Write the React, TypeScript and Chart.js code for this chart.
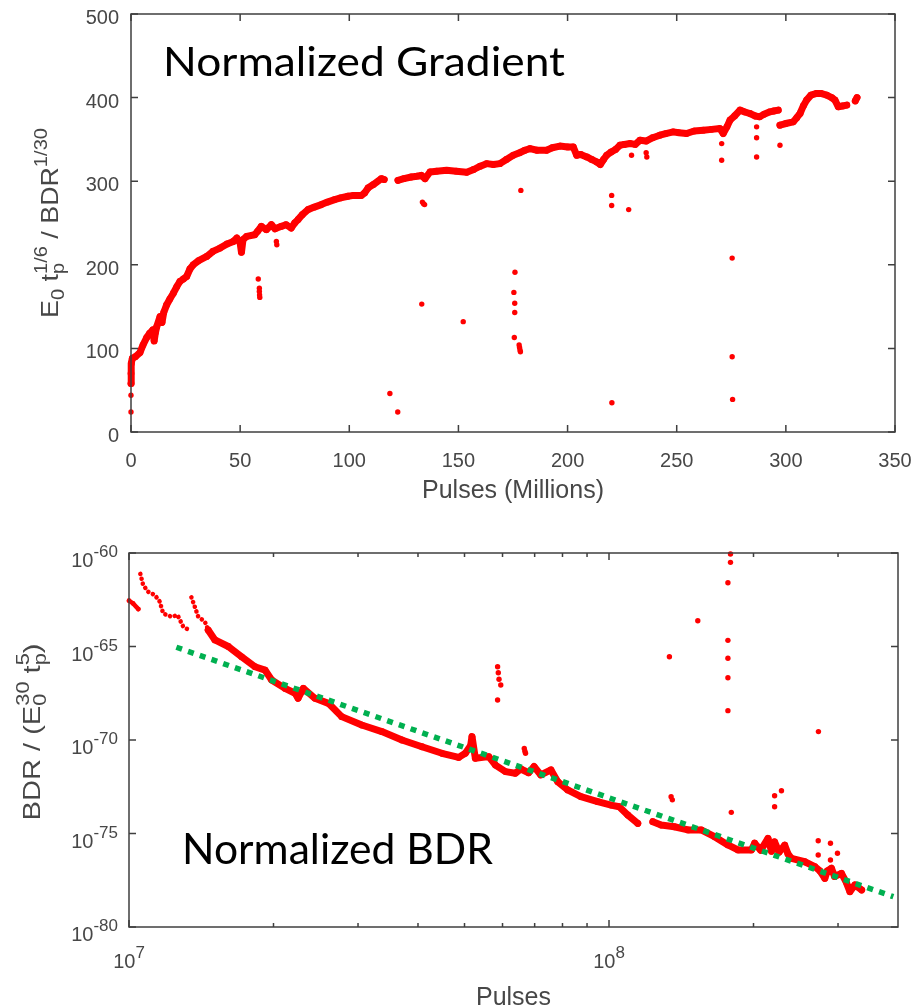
import React, { useEffect, useRef } from "react";
import { Chart, registerables } from "chart.js";
Chart.register(...registerables);

// ================= Top chart: Normalized Gradient =================
const gradXTicks = [0, 50, 100, 150, 200, 250, 300, 350];
const gradYTicks = [0, 100, 200, 300, 400, 500];

// main trend, [pulses (millions), E0 tp^(1/6) / BDR^(1/30)]
const gradTrendA: [number, number][] = [
  [0, 58], [0, 70], [0.2, 82], [0.6, 88], [2, 90], [4.1, 95], [5.5, 104], [7.2, 113], [8.5, 118],
  [10, 122], [10.6, 109], [11.2, 119], [11.8, 126], [13.3, 138], [14.2, 131], [15, 143], [16.3, 152],
  [17.8, 159], [19.4, 166], [21, 174], [22.4, 180], [24, 183], [25.5, 186], [27, 195], [28.5, 200],
  [31, 205], [34.7, 210], [37.5, 216], [40.8, 220], [44, 225], [46.9, 228], [48.5, 232], [50, 226],
  [50.6, 215], [51.3, 230], [53, 234], [56.7, 236], [58, 240], [59.7, 246], [62, 242], [64.3, 248],
  [66, 243], [68.9, 246], [71, 248], [73.4, 244], [75, 250], [76.5, 254], [78.5, 260], [81.1, 266],
  [84, 269], [87.2, 272], [90, 275], [93.3, 278], [96, 280], [99.4, 282], [102, 283], [105.5, 283],
  [107, 286], [108.6, 292], [111, 296], [114.7, 303], [116, 302],
];
const gradTrendB: [number, number][] = [
  [122.3, 301], [125, 303], [128.4, 305], [131, 306], [133, 307], [134.7, 303], [137, 311], [140, 312],
  [144.6, 313], [149, 312], [153.8, 310.6], [157, 314], [160, 318], [162.9, 321], [166, 320], [169, 321],
  [172, 326], [175.1, 331], [178, 334], [180.5, 337], [182.8, 339], [186, 337], [190.4, 337], [193, 340],
  [196.5, 342], [200, 341], [202.6, 341], [204.2, 331], [206, 332], [208.8, 329], [211, 326], [213.3, 323],
  [215, 320], [216.5, 326], [217.9, 331], [220, 335], [222, 338], [224, 343], [226, 344], [228.6, 345],
  [231, 344], [233.2, 349], [236, 348], [239, 352], [242.3, 355], [245, 357], [248.4, 359], [251, 358],
  [254.5, 357], [258, 360], [262.2, 361], [266, 362], [269.8, 363], [271.3, 357], [273, 365], [274.4, 373],
  [276.5, 378], [279, 385], [281, 383], [283.5, 381], [286, 378], [288, 377], [290, 380], [292.7, 383],
  [294.5, 384], [296.5, 385],
];
const gradTrendC: [number, number][] = [
  [297.3, 367], [300, 369], [303.4, 371], [305, 376], [306.5, 381], [308, 390], [309.5, 397], [311.5, 403],
  [314.1, 405], [316, 405], [318.7, 403], [321, 400], [322.5, 397], [324, 389], [326, 390], [327.9, 391],
];
const gradTrendD: [number, number][] = [[331.8, 396], [332.6, 400]];
const gradOutliers: [number, number][] = [
  [0, 44], [0, 24], [58.3, 183], [58.8, 172], [58.8, 168], [58.9, 164], [59, 161], [66.6, 228], [66.8, 224],
  [118.6, 46], [122.2, 24], [133.2, 153], [133.5, 275], [134, 273], [134.5, 272], [152.2, 132],
  [175.9, 191], [175.4, 167], [175.8, 154], [175.8, 143], [175.6, 113], [177.8, 104], [178, 101],
  [178.2, 98], [178.4, 96], [178.6, 289], [220.2, 283], [220.2, 271], [220.3, 35], [228, 266],
  [229.3, 331], [236, 334], [236.3, 329], [270.6, 345], [270.6, 325], [275.4, 208], [275.4, 90],
  [275.6, 39], [286.6, 365], [286.6, 352], [286.6, 329], [297.3, 343],
];

// ================= Bottom chart: Normalized BDR =================
// x in millions of pulses, y as log10 of BDR / (E0^30 tp^5)
const bdrXMajorM = [10, 100];
const bdrXMinorM = [20, 30, 40, 50, 60, 70, 80, 90, 200, 300];
const bdrYTickExp = [-80, -75, -70, -65, -60];

const bdrSeg1: [number, number][] = [[10.0, -62.55], [10.2, -62.7], [10.46, -63.0]];
const bdrSeg2Dotted: [number, number][] = [
  [10.56, -61.12], [10.7, -61.71], [10.96, -62.07], [11.32, -62.25], [11.59, -62.6], [11.78, -63.23],
  [12.26, -63.41], [12.62, -63.32], [12.97, -63.94], [13.39, -64.15],
];
const bdrSeg3Dotted: [number, number][] = [
  [13.49, -62.37], [13.71, -62.87], [13.94, -63.41], [14.39, -63.67], [14.62, -64.12],
];
const bdrSeg3: [number, number][] = [
  [14.62, -64.12], [15.1, -64.65], [16.1, -65.0], [17.16, -65.55], [18.3, -66.08], [19.2, -66.26],
  [19.82, -66.79], [21.14, -67.24], [22.18, -67.5], [22.5, -67.77], [23.08, -67.24], [24.4, -67.77],
  [26.03, -68.04], [27.74, -68.75], [30.54, -69.2], [33.63, -69.55], [37.03, -70.0], [40.77, -70.36],
  [44.87, -70.71], [48.62, -70.93], [50.2, -70.71], [51.5, -70.3], [51.83, -69.82], [52.67, -70.98],
  [56.16, -70.89], [58.0, -71.34], [60.85, -71.69], [63.8, -71.78], [65.5, -71.55], [68.0, -71.75],
  [69.8, -71.42], [72.1, -71.87], [75.7, -71.6], [78.2, -72.23], [82.0, -72.67], [87.4, -73.03],
  [94.7, -73.3], [101, -73.48], [105, -73.57], [109.4, -74.01], [114.8, -74.46],
];
const bdrSeg4: [number, number][] = [
  [123.4, -74.37], [128.4, -74.55], [136.8, -74.64], [146, -74.81], [155.6, -74.81], [165.9, -75.17],
  [176.9, -75.61], [185.6, -75.88], [198, -75.88], [201.1, -75.52], [207, -75.9], [214.4, -75.26],
  [218, -75.95], [221.3, -75.45], [226, -76.0], [232.3, -75.62], [236, -76.1], [240, -76.33],
  [255.7, -76.51], [268.4, -76.77], [275, -77.0], [281.6, -77.4], [285, -77.0], [290.7, -76.86],
  [295, -77.3], [305, -77.13], [312, -77.6], [317.6, -78.11], [325.3, -77.75], [336, -78.02],
];
const bdrOutliers: [number, number][] = [
  [179.1, -60.05], [179.1, -60.5], [176.9, -61.59], [153.1, -63.62], [133.6, -65.55], [176.9, -64.67],
  [176.9, -65.63], [176.9, -66.67], [176.9, -68.43], [273.1, -69.55],
  [58.6, -66.08], [58.8, -66.4], [59.0, -66.75], [59.5, -67.06], [58.6, -67.86],
  [66.6, -70.45], [66.8, -70.6], [67.0, -70.71],
  [134.7, -73.03], [135.5, -73.2], [179.8, -73.87], [221.3, -72.98], [228.7, -72.71], [221.3, -73.57],
  [272.8, -75.39], [272.8, -76.15], [289.3, -75.52], [289.3, -76.42], [299.2, -76.06],
];
const bdrFitM = [12.55, 391.2];
const bdrFitExp = [-65.04, -78.38];

// ================= helpers =================
const SANS = '"Liberation Sans", Arial, Helvetica, sans-serif';
const AXIS = "#3f3f3f";
const TXT = "#474747";
const RED = "#ff0000";
const GREEN = "#00b050";

const lin = (a: [number, number][]) => a.map(([x, y]) => ({ x, y }));
const logPts = (a: [number, number][]) => a.map(([m, e]) => ({ x: m * 1e6, y: Math.pow(10, e) }));

type Seg = { t?: string; sub?: string; sup?: string };

function segsWidth(ctx: CanvasRenderingContext2D, segs: Seg[], big: string, small: string) {
  let w = 0;
  for (const s of segs) {
    if (s.t !== undefined) {
      ctx.font = big;
      w += ctx.measureText(s.t).width;
    } else {
      ctx.font = small;
      w += Math.max(s.sub ? ctx.measureText(s.sub).width : 0, s.sup ? ctx.measureText(s.sup).width : 0);
    }
  }
  return w;
}

function drawSegs(ctx: CanvasRenderingContext2D, segs: Seg[], x: number, y: number, big: string, small: string, subDy: number, supDy: number) {
  for (const s of segs) {
    if (s.t !== undefined) {
      ctx.font = big;
      ctx.fillText(s.t, x, y);
      x += ctx.measureText(s.t).width;
    } else {
      ctx.font = small;
      let w = 0;
      if (s.sub) { ctx.fillText(s.sub, x, y + subDy); w = Math.max(w, ctx.measureText(s.sub).width); }
      if (s.sup) { ctx.fillText(s.sup, x, y + supDy); w = Math.max(w, ctx.measureText(s.sup).width); }
      x += w;
    }
  }
}

function drawRotatedTitle(ctx: CanvasRenderingContext2D, segs: Seg[], baseX: number, centerY: number, targetLen: number) {
  const big = `24px ${SANS}`;
  const small = `18px ${SANS}`;
  const w = segsWidth(ctx, segs, big, small);
  ctx.save();
  ctx.translate(baseX, centerY);
  ctx.rotate(-Math.PI / 2);
  ctx.scale(targetLen / w, 1);
  ctx.fillStyle = TXT;
  ctx.textAlign = "left";
  ctx.textBaseline = "alphabetic";
  drawSegs(ctx, segs, -w / 2, 0, big, small, 6, -11);
  ctx.restore();
}

function fitText(ctx: CanvasRenderingContext2D, text: string, x: number, y: number, font: string, targetW: number) {
  ctx.save();
  ctx.font = font;
  const w = ctx.measureText(text).width;
  ctx.translate(x, y);
  ctx.scale(targetW / w, 1);
  ctx.fillStyle = "#000";
  ctx.textAlign = "left";
  ctx.textBaseline = "alphabetic";
  ctx.fillText(text, 0, 0);
  ctx.restore();
}

function frameAndTicks(ctx: CanvasRenderingContext2D, a: any, xt: { px: number; len: number }[], yt: { py: number; len: number }[]) {
  ctx.strokeStyle = AXIS;
  ctx.lineWidth = 1.5;
  ctx.strokeRect(a.left, a.top, a.right - a.left, a.bottom - a.top);
  ctx.beginPath();
  for (const { px, len } of xt) {
    ctx.moveTo(px, a.bottom); ctx.lineTo(px, a.bottom - len);
    ctx.moveTo(px, a.top); ctx.lineTo(px, a.top + len);
  }
  for (const { py, len } of yt) {
    ctx.moveTo(a.left, py); ctx.lineTo(a.left + len, py);
    ctx.moveTo(a.right, py); ctx.lineTo(a.right - len, py);
  }
  ctx.stroke();
}

const gradDecor = {
  id: "gradDecor",
  afterDraw(chart: any) {
    const { ctx, chartArea: a, scales } = chart;
    const xs = scales.x, ys = scales.y;
    ctx.save();
    frameAndTicks(
      ctx, a,
      gradXTicks.map((v) => ({ px: xs.getPixelForValue(v), len: 7 })),
      gradYTicks.map((v) => ({ py: ys.getPixelForValue(v), len: 7 })),
    );
    ctx.fillStyle = TXT;
    ctx.font = `20px ${SANS}`;
    ctx.textBaseline = "alphabetic";
    ctx.textAlign = "center";
    for (const v of gradXTicks) ctx.fillText(String(v), xs.getPixelForValue(v), a.bottom + 35);
    ctx.textAlign = "right";
    for (const v of gradYTicks) ctx.fillText(String(v), a.left - 12, ys.getPixelForValue(v) + 10);
    ctx.textAlign = "center";
    ctx.font = `25px ${SANS}`;
    ctx.fillText("Pulses (Millions)", (a.left + a.right) / 2, a.bottom + 66);
    drawRotatedTitle(
      ctx,
      [{ t: "E" }, { sub: "0" }, { t: " t" }, { sub: "p", sup: "1/6" }, { t: " / BDR" }, { sup: "1/30" }],
      58, (a.top + a.bottom) / 2, 190,
    );
    fitText(ctx, "Normalized Gradient", a.left + 32, a.top + 62, `41px Lato, "Open Sans", sans-serif`, 402);
    ctx.restore();
  },
};

const bdrDecor = {
  id: "bdrDecor",
  afterDraw(chart: any) {
    const { ctx, chartArea: a, scales } = chart;
    const xs = scales.x, ys = scales.y;
    ctx.save();
    frameAndTicks(
      ctx, a,
      [
        ...bdrXMajorM.map((m) => ({ px: xs.getPixelForValue(m * 1e6), len: 7 })),
        ...bdrXMinorM.map((m) => ({ px: xs.getPixelForValue(m * 1e6), len: 4 })),
      ],
      bdrYTickExp.map((e) => ({ py: ys.getPixelForValue(Math.pow(10, e)), len: 7 })),
    );
    ctx.fillStyle = TXT;
    ctx.textBaseline = "alphabetic";
    ctx.textAlign = "left";
    const big = `20px ${SANS}`;
    const small = `17px ${SANS}`;
    for (const e of bdrYTickExp) {
      const py = ys.getPixelForValue(Math.pow(10, e));
      ctx.font = small;
      const ew = ctx.measureText(String(e)).width;
      ctx.font = big;
      const bw = ctx.measureText("10").width;
      const right = a.left - 11;
      ctx.fillText("10", right - ew - bw, py + 14);
      ctx.font = small;
      ctx.fillText(String(e), right - ew, py + 4);
    }
    for (const m of bdrXMajorM) {
      const px = xs.getPixelForValue(m * 1e6);
      const exp = String(Math.round(Math.log10(m * 1e6)));
      ctx.font = small;
      const ew = ctx.measureText(exp).width;
      ctx.font = big;
      const bw = ctx.measureText("10").width;
      const start = px - (bw + ew) / 2;
      ctx.fillText("10", start, a.bottom + 41);
      ctx.font = small;
      ctx.fillText(exp, start + bw, a.bottom + 31);
    }
    ctx.textAlign = "center";
    ctx.font = `25px ${SANS}`;
    ctx.fillText("Pulses", (a.left + a.right) / 2, a.bottom + 78);
    drawRotatedTitle(
      ctx,
      [{ t: "BDR / (E" }, { sub: "0", sup: "30" }, { t: " t" }, { sub: "p", sup: "5" }, { t: ")" }],
      40, (a.top + a.bottom) / 2 - 8, 177,
    );
    fitText(ctx, "Normalized BDR", a.left + 53, a.bottom - 63, `42px Lato, "Open Sans", sans-serif`, 311);
    ctx.restore();
  },
};

const bandStyle = {
  showLine: true,
  borderColor: RED,
  backgroundColor: RED,
  borderWidth: 7,
  borderJoinStyle: "round" as const,
  borderCapStyle: "round" as const,
  pointRadius: 3.4,
  pointBorderWidth: 0,
  tension: 0,
  clip: false as any,
  order: 2,
};
const dottedStyle = {
  showLine: true,
  borderColor: RED,
  backgroundColor: RED,
  borderWidth: 4.6,
  borderDash: [0.01, 5],
  borderCapStyle: "round" as const,
  pointRadius: 0,
  tension: 0,
  clip: false as any,
  order: 2,
};
const dotStyle = {
  showLine: false,
  backgroundColor: RED,
  borderColor: RED,
  pointRadius: 2.7,
  pointBorderWidth: 0,
  clip: false as any,
  order: 2,
};

const hiddenAxis = {
  grid: { display: false },
  border: { display: false },
  ticks: { display: false },
  title: { display: false },
};

export default function App() {
  const topRef = useRef<HTMLCanvasElement>(null);
  const botRef = useRef<HTMLCanvasElement>(null);

  useEffect(() => {
    const top = new Chart(topRef.current!, {
      type: "scatter",
      data: {
        datasets: [
          { data: lin(gradTrendA), ...bandStyle },
          { data: lin(gradTrendB), ...bandStyle },
          { data: lin(gradTrendC), ...bandStyle },
          { data: lin(gradTrendD), ...bandStyle },
          { data: lin(gradOutliers), ...dotStyle },
        ] as any,
      },
      options: {
        responsive: false,
        animation: false,
        events: [],
        layout: { padding: { left: 0, right: 18, top: 14, bottom: 0 } },
        plugins: { legend: { display: false }, tooltip: { enabled: false } },
        scales: {
          x: { type: "linear", min: 0, max: 350, ...hiddenAxis, afterFit: (s: any) => { s.height = 78; } },
          y: { type: "linear", min: 0, max: 500, ...hiddenAxis, afterFit: (s: any) => { s.width = 131; } },
        },
      } as any,
      plugins: [gradDecor],
    });

    const bot = new Chart(botRef.current!, {
      type: "scatter",
      data: {
        datasets: [
          {
            data: bdrFitM.map((m, i) => ({ x: m * 1e6, y: Math.pow(10, bdrFitExp[i]) })),
            showLine: true,
            borderColor: GREEN,
            borderWidth: 5.5,
            borderDash: [6, 6.4],
            borderCapStyle: "butt",
            pointRadius: 0,
            order: 0,
          },
          { data: logPts(bdrSeg1), ...bandStyle, borderWidth: 4.5, pointRadius: 2.4 },
          { data: logPts(bdrSeg2Dotted), ...dottedStyle },
          { data: logPts(bdrSeg3Dotted), ...dottedStyle },
          { data: logPts(bdrSeg3), ...bandStyle },
          { data: logPts(bdrSeg4), ...bandStyle },
          { data: logPts(bdrOutliers), ...dotStyle },
        ] as any,
      },
      options: {
        responsive: false,
        animation: false,
        events: [],
        layout: { padding: { left: 0, right: 15, top: 43, bottom: 0 } },
        plugins: { legend: { display: false }, tooltip: { enabled: false } },
        scales: {
          x: {
            type: "logarithmic", min: 1e7, max: 4e8, bounds: "data", ...hiddenAxis,
            afterBuildTicks: (s: any) => { s.ticks = bdrXMajorM.map((m) => ({ value: m * 1e6 })); },
            afterFit: (s: any) => { s.height = 80; },
          },
          y: {
            type: "logarithmic", min: 1e-80, max: 1e-60, bounds: "data", ...hiddenAxis,
            afterBuildTicks: (s: any) => { s.ticks = bdrYTickExp.map((e) => ({ value: Math.pow(10, e) })); },
            afterFit: (s: any) => { s.width = 129; },
          },
        },
      } as any,
      plugins: [bdrDecor],
    });

    return () => {
      top.destroy();
      bot.destroy();
    };
  }, []);

  return (
    <div style={{ position: "absolute", left: 0, top: 0, width: 913, height: 1007, background: "#fff" }}>
      <canvas ref={topRef} width={913} height={510} style={{ position: "absolute", left: 0, top: 0, width: 913, height: 510 }} />
      <canvas ref={botRef} width={913} height={497} style={{ position: "absolute", left: 0, top: 510, width: 913, height: 497 }} />
    </div>
  );
}
